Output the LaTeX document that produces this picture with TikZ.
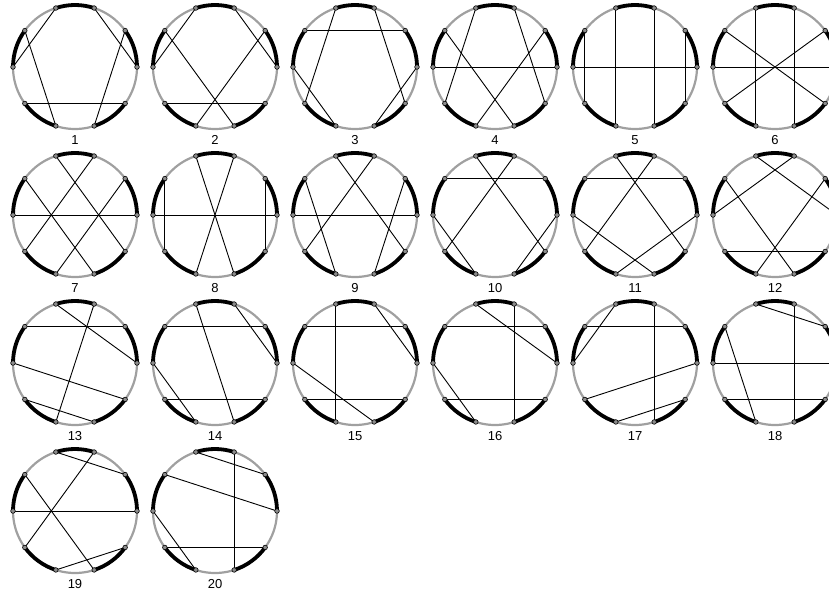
\documentclass[tikz,border=0pt]{standalone}
\usepackage{fontspec}
\setmainfont{Liberation Sans}
\definecolor{ringgray}{HTML}{A0A0A0}
\definecolor{dotgray}{HTML}{8C8C8C}
\tikzset{
  ring/.style={draw=ringgray,line width=2.2pt},
  band/.style={line width=3.8pt},
  chord/.style={line width=.9pt},
  endpt/.style={circle,draw=black,fill=dotgray,inner sep=0pt,minimum size=4.6pt,line width=.6pt},
  tag/.style={font=\fontsize{13}{13}\selectfont}
}
% #1 column, #2 row, #3 number, #4 chords i/j
\newcommand\decagon[4]{%
  \begin{scope}[shift={(75+140*#1,-67-148*#2)}]
    \draw[ring] (0,0) circle (62pt);
    \foreach \a in {0,72,...,288}
      \draw[band] (\a:62pt) arc (\a:\a+36:62pt);
    \foreach \k in {0,...,9}
      \coordinate (p#3-\k) at (36*\k:62pt);
    \foreach \i/\j in {#4}
      \draw[chord] (p#3-\i) -- (p#3-\j);
    \foreach \k in {0,...,9}
      \node[endpt] (d#3-\k) at (p#3-\k) {};
    \node[tag] (lab#3) at (0,-73) {#3};
  \end{scope}}
\begin{document}
\begin{tikzpicture}[x=1pt,y=1pt]
\useasboundingbox (0,0) rectangle (829,-604);
\decagon{0}{0}{1}{3/5,2/0,4/7,1/8,6/9}
\decagon{1}{0}{2}{3/5,2/0,4/8,1/7,6/9}
\decagon{2}{0}{3}{4/1,3/6,2/9,5/7,0/8}
\decagon{3}{0}{4}{5/0,3/6,2/9,4/8,1/7}
\decagon{4}{0}{5}{5/0,3/7,2/8,4/6,1/9}
\decagon{5}{0}{6}{5/0,3/7,2/8,4/9,1/6}
\decagon{0}{1}{7}{5/0,3/9,2/6,4/8,1/7}
\decagon{1}{1}{8}{5/0,3/8,2/7,4/6,1/9}
\decagon{2}{1}{9}{5/0,3/9,2/6,4/7,1/8}
\decagon{3}{1}{10}{4/1,3/9,2/6,5/7,0/8}
\decagon{4}{1}{11}{4/1,3/9,2/6,5/8,0/7}
\decagon{5}{1}{12}{2/5,3/0,4/8,1/7,6/9}
\decagon{0}{2}{13}{4/1,3/0,2/7,5/9,6/8}
\decagon{1}{2}{14}{4/1,3/8,6/9,5/7,2/0}
\decagon{2}{2}{15}{4/1,3/7,6/9,2/0,5/8}
\decagon{3}{2}{16}{3/0,4/1,2/8,5/7,6/9}
\decagon{4}{2}{17}{3/5,4/1,2/8,6/0,7/9}
\decagon{5}{2}{18}{3/1,5/0,2/8,4/7,6/9}
\decagon{0}{3}{19}{3/1,5/0,2/6,4/8,7/9}
\decagon{1}{3}{20}{3/1,4/0,2/8,6/9,5/7}
\end{tikzpicture}
\end{document}
